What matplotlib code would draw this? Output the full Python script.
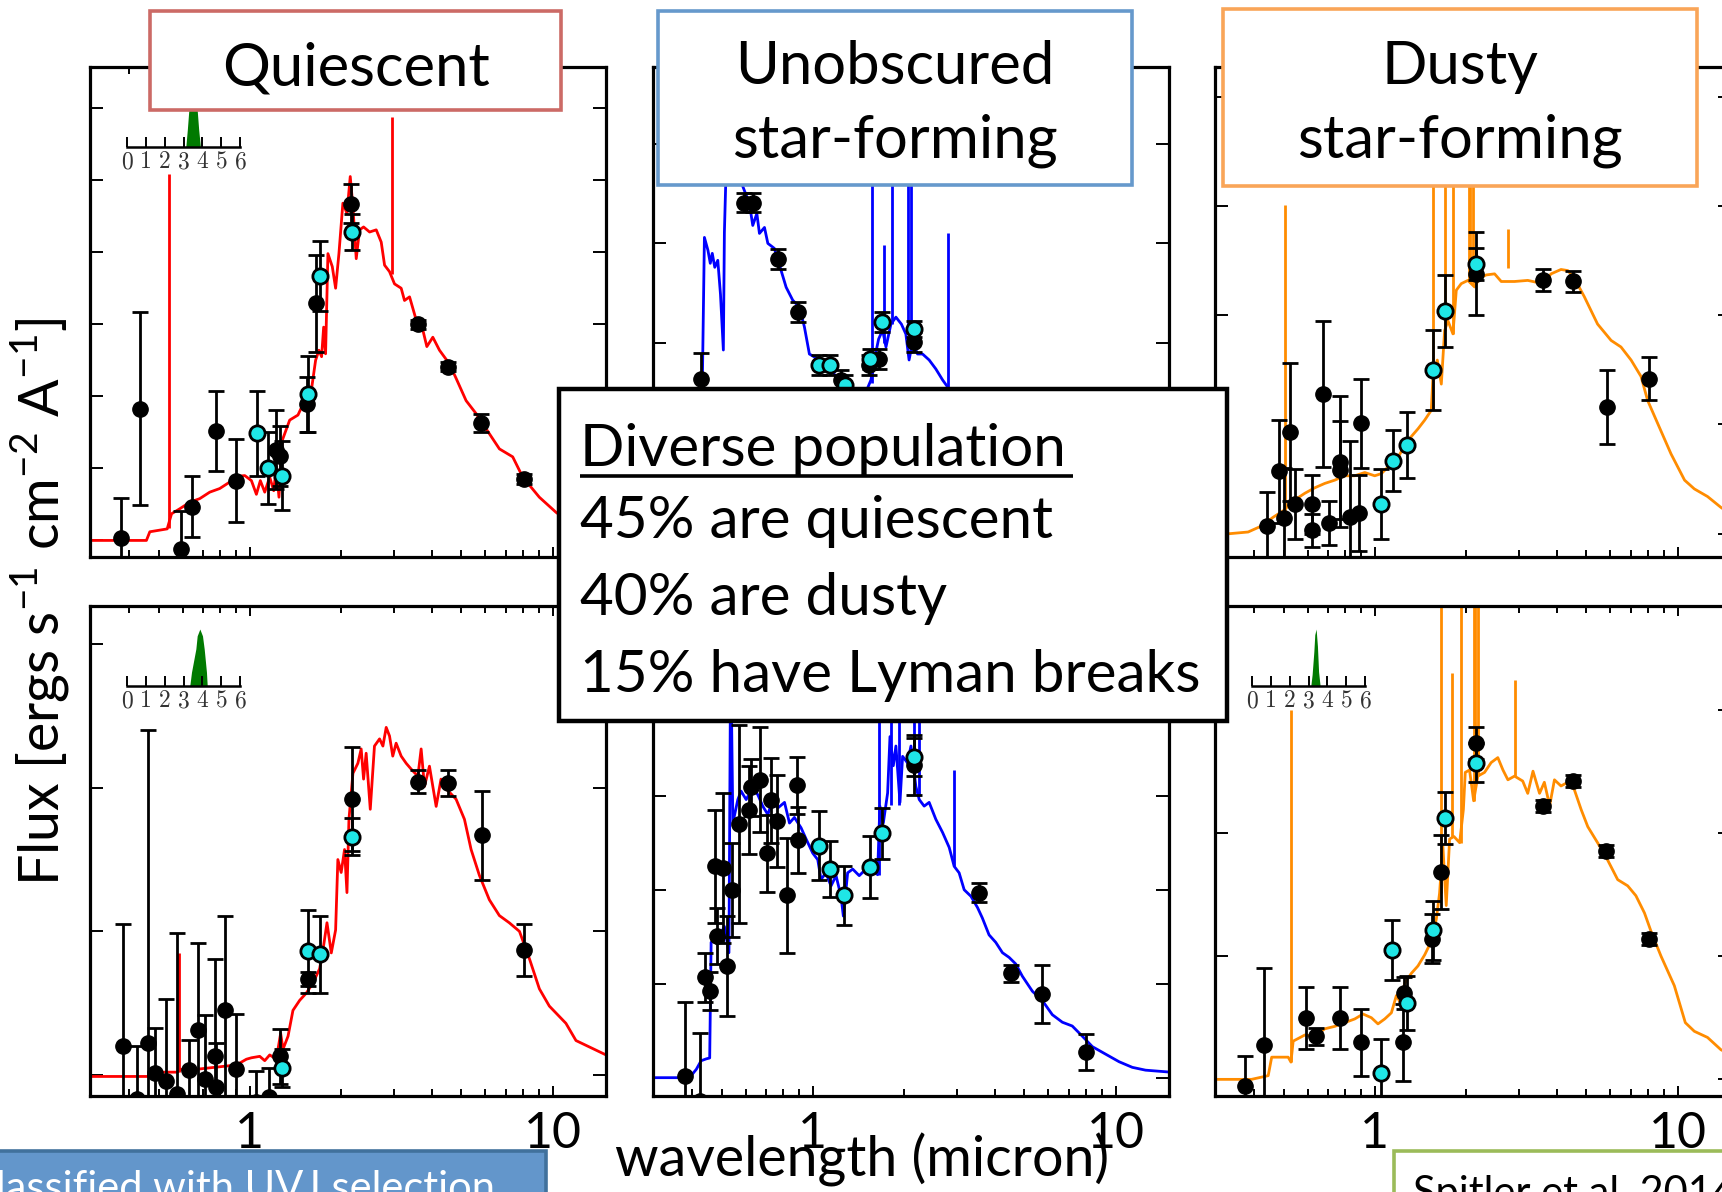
import numpy as np
import matplotlib
matplotlib.use("Agg")
import matplotlib.pyplot as plt
from matplotlib.patches import Rectangle
from matplotlib.ticker import LogLocator, NullFormatter

plt.rcParams['font.family'] = ['Lato', 'DejaVu Sans']
plt.rcParams['mathtext.fontset'] = 'custom'
plt.rcParams['mathtext.rm'] = 'Lato'

# ---- photometry: wavelength (micron), flux (arbitrary units), 1-sigma error ----
# black = broad band, cyan = medium band
tl_phot_lam = [0.375, 0.434, 0.595, 0.647, 0.773, 0.904, 1.218, 1.256, 1.545, 1.659, 2.163, 3.588, 4.529, 5.802, 8.025]
tl_phot_flux = [0.03, 1.83, -0.12, 0.47, 1.52, 0.83, 1.26, 1.17, 1.89, 3.29, 4.67, 3.00, 2.41, 1.63, 0.85]
tl_phot_err = [0.56, 1.34, 0.53, 0.42, 0.56, 0.58, 0.55, 0.42, 0.38, 0.67, 0.27, 0.06, 0.06, 0.13, 0.07]
tl_mb_lam = [1.057, 1.152, 1.281, 1.557, 1.710, 2.169]
tl_mb_flux = [1.49, 1.00, 0.90, 2.03, 3.67, 4.28]
tl_mb_err = [0.59, 0.50, 0.48, 0.53, 0.48, 0.25]

tm_phot_lam = [0.428, 0.591, 0.637, 0.767, 0.897, 1.240, 1.530, 1.659, 2.165]
tm_phot_flux = [1.64, 3.41, 3.41, 2.84, 2.31, 1.63, 1.78, 1.84, 2.01]
tm_phot_err = [0.26, 0.10, 0.10, 0.10, 0.10, 0.10, 0.10, 0.10, 0.10]
tm_mb_lam = [1.047, 1.141, 1.275, 1.545, 1.693, 2.153]
tm_mb_flux = [1.78, 1.78, 1.58, 1.84, 2.21, 2.14]
tm_mb_err = [0.10, 0.10, 0.10, 0.10, 0.10, 0.08]

tr_phot_lam = [0.442, 0.484, 0.503, 0.525, 0.545, 0.622, 0.622, 0.676, 0.705, 0.767, 0.767, 0.827, 0.886, 0.904,
               2.165, 3.588, 4.529, 5.83, 8.025]
tr_phot_flux = [0.07, 0.57, 0.14, 0.93, 0.27, 0.27, 0.03, 1.28, 0.10, 0.66, 0.58, 0.15, 0.19, 1.01,
                2.38, 2.32, 2.31, 1.16, 1.42]
tr_phot_err = [0.31, 0.47, 0.46, 0.63, 0.32, 0.27, 0.15, 0.67, 0.20, 0.60, 0.45, 0.70, 0.35, 0.41,
               0.38, 0.10, 0.10, 0.34, 0.20]
tr_mb_lam = [1.052, 1.146, 1.275, 1.557, 1.701, 2.165]
tr_mb_flux = [0.27, 0.67, 0.81, 1.50, 2.04, 2.47]
tr_mb_err = [0.32, 0.28, 0.30, 0.37, 0.33, 0.15]

bl_phot_lam = [0.382, 0.423, 0.463, 0.487, 0.529, 0.576, 0.629, 0.676, 0.711, 0.769, 0.773, 0.827, 0.904, 1.052,
               1.155, 1.256, 1.557, 2.175, 3.588, 4.529, 5.83, 8.025]
bl_phot_flux = [0.20, -0.17, 0.225, 0.016, -0.04, -0.13, 0.035, 0.31, -0.03, 0.13, -0.08, 0.45, 0.044, -0.19,
                -0.15, 0.13, 0.67, 1.92, 2.04, 2.03, 1.67, 0.87]
bl_phot_err = [0.85, 0.37, 2.18, 0.31, 0.57, 1.12, 0.21, 0.61, 0.45, 0.68, 0.30, 0.66, 0.38, 0.22,
               0.20, 0.19, 0.05, 0.36, 0.08, 0.09, 0.31, 0.18]
bl_mb_lam = [1.278, 1.557, 1.710, 2.175]
bl_mb_flux = [0.05, 0.86, 0.84, 1.66]
bl_mb_err = [0.13, 0.29, 0.27, 0.13]

bm_phot_lam = [0.379, 0.423, 0.442, 0.459, 0.474, 0.484, 0.505, 0.520, 0.542, 0.570, 0.618, 0.626, 0.671, 0.705,
               0.729, 0.761, 0.821, 0.886, 0.897, 2.153, 3.544, 4.51, 5.73, 7.96]
bm_phot_flux = [0.02, -0.25, 1.07, 0.92, 2.25, 1.51, 2.23, 1.19, 2.00, 2.70, 2.85, 3.09, 3.17, 2.39,
                2.95, 2.73, 1.94, 3.11, 2.53, 3.33, 1.97, 1.11, 0.89, 0.27]
bm_phot_err = [0.79, 0.73, 0.26, 0.20, 0.60, 0.30, 0.80, 0.53, 0.50, 1.05, 0.47, 0.30, 0.56, 0.41,
               0.45, 0.49, 0.61, 0.30, 0.35, 0.32, 0.10, 0.09, 0.31, 0.19]
bm_mb_lam = [1.047, 1.141, 1.272, 1.545, 1.693, 2.153]
bm_mb_flux = [2.47, 2.22, 1.94, 2.24, 2.60, 3.41]
bm_mb_err = [0.37, 0.30, 0.31, 0.33, 0.27, 0.20]

br_phot_lam = [0.373, 0.432, 0.591, 0.642, 0.767, 0.904, 1.240, 1.246, 1.545, 1.650, 2.165, 3.588, 4.529, 5.802, 8.025]
br_phot_flux = [-0.05, 0.28, 0.50, 0.35, 0.50, 0.30, 0.30, 0.70, 1.14, 1.68, 2.73, 2.22, 2.42, 1.85, 1.14]
br_phot_err = [0.24, 0.62, 0.25, 0.07, 0.25, 0.27, 0.31, 0.13, 0.20, 0.30, 0.13, 0.05, 0.05, 0.05, 0.05]
br_mb_lam = [1.052, 1.143, 1.275, 1.557, 1.701, 2.153]
br_mb_flux = [0.05, 1.05, 0.62, 1.21, 2.12, 2.57]
br_mb_err = [0.28, 0.24, 0.22, 0.24, 0.21, 0.16]

# ---- best-fit template continua (wavelength, flux) ----
tl_model = [(0.297, 0.00), (0.456, 0.00), (0.468, 0.12), (0.534, 0.16), (0.552, 0.37), (0.588, 0.44), (0.634, 0.53),
            (0.684, 0.58), (0.738, 0.67), (0.796, 0.72), (0.859, 0.81), (0.915, 0.89), (0.963, 0.90), (1.013, 0.83),
            (1.052, 0.64), (1.084, 0.83), (1.121, 0.67), (1.164, 0.88), (1.200, 0.69), (1.224, 1.02), (1.249, 0.60),
            (1.281, 1.39), (1.355, 1.67), (1.443, 1.74), (1.518, 1.94), (1.597, 2.08), (1.650, 2.50), (1.692, 2.64),
            (1.727, 2.55), (1.754, 2.96), (1.780, 2.59), (1.812, 3.98), (1.873, 3.80), (1.921, 3.50), (1.970, 3.98),
            (2.030, 4.68), (2.094, 4.54), (2.147, 5.05), (2.191, 4.63), (2.247, 3.91), (2.304, 4.31), (2.376, 4.35),
            (2.487, 4.28), (2.616, 4.31), (2.717, 4.14), (2.787, 3.82), (2.894, 3.73), (3.006, 3.56), (3.162, 3.50),
            (3.243, 3.33), (3.370, 3.38), (3.544, 3.06), (3.728, 2.92), (3.843, 2.69), (4.022, 2.82), (4.230, 2.64),
            (4.563, 2.45), (4.800, 2.25), (5.179, 1.94), (5.588, 1.76), (6.183, 1.48), (6.673, 1.27), (7.381, 1.16),
            (7.963, 0.88), (9.036, 0.60), (10.26, 0.39), (11.94, 0.19), (15.0, 0.00)]

tm_model = [(0.297, 0.02), (0.423, 0.02), (0.432, 1.56), (0.439, 3.06), (0.451, 2.93), (0.459, 2.80), (0.466, 2.90),
            (0.475, 2.76), (0.486, 2.83), (0.496, 2.49), (0.507, 1.93), (0.511, 3.11), (0.518, 3.77), (0.531, 3.83),
            (0.573, 3.67), (0.588, 3.57), (0.618, 3.40), (0.634, 3.18), (0.654, 3.30), (0.667, 3.10), (0.693, 3.16),
            (0.711, 3.00), (0.747, 2.95), (0.786, 2.73), (0.817, 2.56), (0.859, 2.43), (0.904, 2.36), (0.939, 2.16),
            (0.975, 1.89), (1.013, 1.86), (1.079, 1.83), (1.135, 1.76), (1.194, 1.66), (1.240, 1.63), (1.288, 1.59),
            (1.355, 1.54), (1.424, 1.46), (1.499, 1.51), (1.557, 1.63), (1.597, 1.83), (1.650, 2.04), (1.701, 2.13),
            (1.745, 1.96), (1.812, 2.19), (1.882, 2.26), (1.962, 2.19), (2.030, 2.09), (2.080, 1.83), (2.136, 2.01),
            (2.218, 1.89), (2.304, 1.89), (2.423, 1.83), (2.549, 1.74), (2.683, 1.63), (2.787, 1.56), (3.043, 1.22),
            (3.54, 0.92), (4.23, 0.66), (5.44, 0.42), (7.96, 0.22), (11.6, 0.09), (15.0, 0.04)]

tr_model = [(0.297, 0.00), (0.333, 0.00), (0.382, 0.015), (0.423, 0.07), (0.462, 0.15), (0.499, 0.21), (0.545, 0.31),
            (0.588, 0.37), (0.634, 0.42), (0.684, 0.46), (0.738, 0.49), (0.796, 0.53), (0.859, 0.53), (0.927, 0.56),
            (1.0, 0.53), (1.052, 0.55), (1.106, 0.61), (1.179, 0.67), (1.256, 0.81), (1.321, 0.89), (1.389, 0.96),
            (1.462, 1.04), (1.537, 1.13), (1.557, 1.44), (1.609, 1.59), (1.659, 1.37), (1.701, 1.86), (1.745, 1.95),
            (1.812, 1.83), (1.859, 2.23), (1.930, 2.29), (2.030, 2.32), (2.136, 2.26), (2.218, 2.34), (2.333, 2.37),
            (2.487, 2.38), (2.616, 2.31), (2.894, 2.31), (3.20, 2.32), (3.59, 2.29), (3.82, 2.38), (4.12, 2.42),
            (4.34, 2.41), (4.56, 2.34), (4.92, 2.17), (5.44, 1.92), (6.03, 1.77), (6.50, 1.71), (7.02, 1.59),
            (7.57, 1.44), (7.96, 1.22), (8.59, 1.01), (9.51, 0.73), (10.54, 0.49), (11.35, 0.41), (12.55, 0.34),
            (13.9, 0.24), (15.0, 0.18)]

bl_model = [(0.297, -0.01), (0.468, -0.01), (0.518, 0.02), (0.576, 0.02), (0.595, 0.04), (0.667, 0.04), (0.817, 0.06),
            (0.904, 0.07), (0.975, 0.11), (1.013, 0.12), (1.079, 0.13), (1.121, 0.10), (1.164, 0.14), (1.224, 0.11),
            (1.265, 0.29), (1.288, 0.18), (1.338, 0.27), (1.389, 0.45), (1.462, 0.52), (1.537, 0.57), (1.617, 0.64),
            (1.701, 0.74), (1.745, 0.87), (1.799, 1.06), (1.859, 0.85), (1.921, 1.01), (1.954, 1.50), (2.004, 1.41),
            (2.056, 1.57), (2.094, 1.27), (2.126, 1.78), (2.191, 2.10), (2.275, 2.17), (2.333, 2.27), (2.376, 2.06),
            (2.423, 2.24), (2.500, 1.85), (2.581, 2.29), (2.683, 2.34), (2.752, 2.29), (2.822, 2.42), (2.894, 2.36),
            (2.966, 2.22), (3.043, 2.31), (3.162, 2.22), (3.285, 2.17), (3.41, 2.13), (3.59, 2.08), (3.68, 2.27),
            (3.775, 2.01), (3.92, 2.15), (4.125, 1.87), (4.28, 2.06), (4.51, 1.98), (4.80, 1.92), (5.115, 1.78),
            (5.38, 1.57), (5.73, 1.39), (6.18, 1.22), (6.67, 1.11), (7.19, 1.06), (7.77, 1.00), (8.38, 0.81),
            (9.04, 0.60), (9.75, 0.48), (11.06, 0.36), (11.94, 0.24), (15.0, 0.14)]

bm_model = [(0.297, 0.0), (0.392, 0.0), (0.413, 0.09), (0.428, 0.18), (0.445, 0.20), (0.457, 0.21), (0.462, 1.44),
            (0.474, 1.47), (0.493, 1.51), (0.511, 1.61), (0.529, 1.33), (0.536, 4.60), (0.545, 2.71), (0.566, 2.96),
            (0.580, 3.05), (0.603, 2.96), (0.634, 3.09), (0.659, 3.01), (0.684, 2.89), (0.711, 2.80), (0.738, 2.96),
            (0.767, 2.87), (0.807, 2.93), (0.838, 2.71), (0.870, 2.77), (0.915, 2.66), (0.951, 2.54), (1.0, 2.39),
            (1.039, 2.32), (1.065, 2.11), (1.106, 2.18), (1.149, 2.04), (1.194, 2.15), (1.240, 1.93), (1.262, 1.72),
            (1.304, 2.18), (1.355, 2.22), (1.424, 2.15), (1.499, 2.22), (1.577, 2.22), (1.637, 2.16), (1.666, 2.89),
            (1.710, 2.71), (1.767, 3.03), (1.799, 3.63), (1.845, 3.32), (1.882, 3.53), (1.941, 2.93), (1.980, 3.42),
            (2.056, 3.35), (2.110, 3.53), (2.190, 3.10), (2.247, 2.96), (2.333, 2.89), (2.423, 2.93), (2.549, 2.75),
            (2.683, 2.61), (2.822, 2.45), (2.930, 2.25), (3.043, 2.18), (3.162, 2.00), (3.33, 1.93), (3.50, 1.81),
            (3.63, 1.70), (3.82, 1.52), (4.02, 1.44), (4.23, 1.33), (4.45, 1.28), (4.68, 1.21), (4.92, 1.08),
            (5.31, 0.92), (5.73, 0.82), (6.18, 0.67), (6.67, 0.59), (7.19, 0.55), (7.77, 0.44), (8.38, 0.33),
            (9.27, 0.25), (10.26, 0.17), (11.35, 0.11), (12.55, 0.08), (15.0, 0.06)]

br_model = [(0.297, 0.0), (0.392, 0.0), (0.445, 0.03), (0.457, 0.18), (0.518, 0.18), (0.529, 0.14), (0.538, 0.31),
            (0.588, 0.36), (0.634, 0.35), (0.684, 0.41), (0.738, 0.43), (0.796, 0.46), (0.859, 0.49), (0.915, 0.53),
            (0.975, 0.50), (1.025, 0.45), (1.079, 0.49), (1.135, 0.54), (1.179, 0.68), (1.218, 0.62), (1.256, 0.78),
            (1.321, 0.86), (1.389, 0.92), (1.462, 1.01), (1.537, 1.12), (1.597, 1.30), (1.637, 1.51), (1.679, 1.89),
            (1.722, 1.41), (1.767, 1.95), (1.826, 1.97), (1.907, 1.92), (1.962, 2.19), (1.990, 2.49), (2.056, 2.51),
            (2.121, 2.26), (2.190, 2.46), (2.304, 2.49), (2.423, 2.57), (2.549, 2.61), (2.650, 2.51), (2.752, 2.43),
            (2.894, 2.46), (3.08, 2.42), (3.20, 2.32), (3.33, 2.50), (3.50, 2.32), (3.63, 2.41), (3.78, 2.22),
            (3.92, 2.43), (4.12, 2.38), (4.34, 2.41), (4.56, 2.35), (4.80, 2.19), (5.05, 2.05), (5.44, 1.92),
            (5.87, 1.78), (6.34, 1.62), (6.84, 1.57), (7.28, 1.49), (7.77, 1.35), (8.17, 1.20), (8.81, 1.00),
            (9.75, 0.76), (10.6, 0.46), (11.35, 0.39), (12.55, 0.34), (13.9, 0.24), (15.0, 0.20)]

# ---- emission lines: wavelength, continuum level, peak ----
tl_line_lam = [0.540, 2.945]
tl_line_base = [0.17, 3.70]
tl_line_peak = [5.09, 5.88]
tm_line_lam = [1.569, 1.723, 1.822, 2.057, 2.110, 2.787]
tm_line_base = [1.60, 2.00, 2.19, 2.09, 1.90, 1.56]
tm_line_peak = [4.2, 2.98, 4.2, 4.2, 4.2, 3.10]
tr_line_lam = [0.505, 1.553, 1.701, 1.808, 2.04, 2.07, 2.105, 2.752]
tr_line_base = [0.21, 1.13, 1.86, 1.83, 2.32, 2.30, 2.28, 2.43]
tr_line_peak = [3.01, 3.6, 3.6, 3.6, 3.6, 3.6, 3.6, 2.79]
bl_line_lam = [0.585]
bl_line_base = [0.02]
bl_line_peak = [0.85]
bm_line_lam = [1.658, 1.812, 1.93, 2.163, 2.247, 2.93]
bm_line_base = [2.16, 2.90, 2.90, 3.30, 3.00, 2.25]
bm_line_peak = [5.0, 5.0, 5.0, 5.0, 5.0, 3.27]
br_line_lam = [0.531, 1.650, 1.799, 1.921, 2.12, 2.15, 2.19, 2.894]
br_line_base = [0.14, 1.51, 1.97, 1.92, 2.26, 2.40, 2.46, 2.46]
br_line_peak = [3.0, 4.0, 3.30, 4.0, 4.0, 4.0, 4.0, 3.24]

# ---- photometric redshift probability (left column and bottom right only) ----
tl_pz_z = [3.12, 3.20, 3.28, 3.40, 3.51, 3.62, 3.72, 3.80, 3.89]
tl_pz_p = [0, 0.30, 0.65, 0.90, 1.0, 0.90, 0.65, 0.30, 0]
bl_pz_z = [3.33, 3.42, 3.65, 3.72, 3.86, 4.00, 4.09, 4.21, 4.25]
bl_pz_p = [0, 0.24, 0.65, 0.88, 1.0, 0.88, 0.65, 0.24, 0]
br_pz_z = [3.12, 3.19, 3.28, 3.33, 3.40, 3.47, 3.53, 3.61]
br_pz_p = [0, 0.20, 0.60, 0.90, 1.0, 0.70, 0.25, 0]

RED, BLUE, ORANGE = '#FF0000', '#0000FF', '#FF8C00'

W, H = 1722, 1192
fig = plt.figure(figsize=(W / 100, H / 100), dpi=100)


def px_axes(left, top, width, height, **kw):
    return fig.add_axes([left / W, 1 - (top + height) / H, width / W, height / H], **kw)


def draw_panel(ax, model, color, lines, phot, mb, ylim, nticks, pz, labels):
    lam, flux = zip(*model)
    ax.plot(lam, flux, color=color, lw=2.0, zorder=2)
    ax.vlines(lines[0], lines[1], lines[2], color=color, lw=2.0, zorder=2)
    for d in (phot, mb):
        ax.errorbar(d[0], d[1], yerr=d[2], fmt='none', ecolor='black', elinewidth=2.0,
                    capsize=6, capthick=2.0, zorder=3)
    ax.plot(phot[0], phot[1], 'o', color='black', ms=11, zorder=4)
    ax.plot(mb[0], mb[1], 'o', mfc='#1FE6E6', mec='black', mew=2.0, ms=11, zorder=5)

    ax.set_xscale('log')
    ax.set_xlim(0.297, 15)
    ax.set_ylim(*ylim)
    ax.set_yticks(range(nticks))
    ax.set_yticklabels([])
    ax.set_xticks([1, 10])
    ax.xaxis.set_minor_locator(LogLocator(base=10, subs=np.arange(2, 10)))
    ax.xaxis.set_minor_formatter(NullFormatter())
    ax.tick_params(which='both', direction='in', top=True, right=True, width=1.4)
    ax.tick_params(axis='y', length=9.5)
    ax.tick_params(axis='x', which='major', length=7.5)
    ax.tick_params(axis='x', which='minor', length=5)
    if labels:
        ax.set_xticklabels(['1', '10'], fontsize=36)
        ax.tick_params(axis='x', which='major', pad=11)
    else:
        ax.set_xticklabels([])
    for s in ax.spines.values():
        s.set_linewidth(2.3)

    if pz is None:
        return
    ins = ax.inset_axes([0.071, 0.837, 0.2205, 0.116])
    ins.fill_between(pz[0], pz[1], color='#007A00', lw=0)
    ins.set_xlim(0, 6)
    ins.set_ylim(0, 1)
    ins.patch.set_alpha(0)
    for side in ('top', 'left', 'right'):
        ins.spines[side].set_visible(False)
    ins.spines['bottom'].set_linewidth(1.8)
    ins.set_yticks([])
    ins.set_xticks(range(7))
    ins.set_xticklabels([str(i) for i in range(7)], fontfamily='cmr10', fontsize=17, color='#333333')
    ins.tick_params(axis='x', direction='in', length=7.5, width=1.4, pad=3)


panels = [
    ((90, 67), tl_model, RED, (tl_line_lam, tl_line_base, tl_line_peak),
     (tl_phot_lam, tl_phot_flux, tl_phot_err), (tl_mb_lam, tl_mb_flux, tl_mb_err),
     (-0.23, 6.57), 7, (tl_pz_z, tl_pz_p), False),
    ((653, 67), tm_model, BLUE, (tm_line_lam, tm_line_base, tm_line_peak),
     (tm_phot_lam, tm_phot_flux, tm_phot_err), (tm_mb_lam, tm_mb_flux, tm_mb_err),
     (-0.147, 4.77), 5, None, False),
    ((1215, 67), tr_model, ORANGE, (tr_line_lam, tr_line_base, tr_line_peak),
     (tr_phot_lam, tr_phot_flux, tr_phot_err), (tr_mb_lam, tr_mb_flux, tr_mb_err),
     (-0.214, 4.275), 5, None, False),
    ((90, 606), bl_model, RED, (bl_line_lam, bl_line_base, bl_line_peak),
     (bl_phot_lam, bl_phot_flux, bl_phot_err), (bl_mb_lam, bl_mb_flux, bl_mb_err),
     (-0.146, 3.265), 4, (bl_pz_z, bl_pz_p), True),
    ((653, 606), bm_model, BLUE, (bm_line_lam, bm_line_base, bm_line_peak),
     (bm_phot_lam, bm_phot_flux, bm_phot_err), (bm_mb_lam, bm_mb_flux, bm_mb_err),
     (-0.195, 5.02), 6, None, True),
    ((1215, 606), br_model, ORANGE, (br_line_lam, br_line_base, br_line_peak),
     (br_phot_lam, br_phot_flux, br_phot_err), (br_mb_lam, br_mb_flux, br_mb_err),
     (-0.135, 3.84), 4, (br_pz_z, br_pz_p), True),
]

for (left, top), *args in panels:
    ax = px_axes(left, top, 516, 490)
    draw_panel(ax, *args)

# slide overlay: category boxes, summary box, axis titles
ov = px_axes(0, 0, W, H, zorder=10)
ov.set_xlim(0, W)
ov.set_ylim(H, 0)
ov.axis('off')


def box(x0, y0, x1, y1, ec, fc='white', lw=2.6):
    ov.add_patch(Rectangle((x0, y0), x1 - x0, y1 - y0, fc=fc, ec=ec, lw=lw))


box(150, 11, 561, 110, '#CC6A66')
ov.text(356, 86, 'Quiescent', fontsize=43, ha='center', va='baseline')

box(658, 11, 1132, 185, '#6699CC')
ov.text(895, 84, 'Unobscured', fontsize=43, ha='center', va='baseline')
ov.text(895, 157, 'star-forming', fontsize=43, ha='center', va='baseline')

box(1223, 9, 1697, 186, '#F9A558')
ov.text(1460, 84, 'Dusty', fontsize=43, ha='center', va='baseline')
ov.text(1460, 157, 'star-forming', fontsize=43, ha='center', va='baseline')

box(559, 389, 1227, 721, 'black', lw=3.2)
summary = ['Diverse population', '45% are quiescent', '40% are dusty', '15% have Lyman breaks']
for txt, yb in zip(summary, [466, 538, 615, 692]):
    ov.text(580, yb, txt, fontsize=42, ha='left', va='baseline')
ov.plot([580, 1073], [476, 476], color='black', lw=2.6, solid_capstyle='butt')

ov.text(40, 602, 'Flux [ergs s$^{\\mathregular{-1}}$ cm$^{\\mathregular{-2}}$ A$^{\\mathregular{-1}}$]',
        fontsize=40, rotation=90, ha='center', va='center')
ov.text(862, 1133, 'wavelength (micron)', fontsize=40, ha='center', va='top')

box(-10, 1151, 546, 1215, '#41719C', fc='#6396CB')
ov.text(-32, 1170, 'Classified with UVJ selection', fontsize=30, color='white', ha='left', va='top')

box(1394, 1151, 1740, 1215, '#9BBB59')
ov.text(1413, 1175, 'Spitler et al. 2014', fontsize=30, color='black', ha='left', va='top')

fig.savefig('out.png', dpi=100)
